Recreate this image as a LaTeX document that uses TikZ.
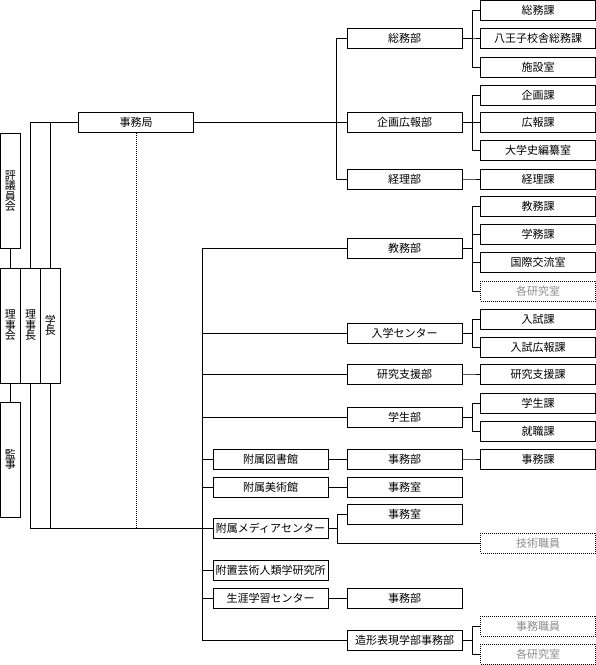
\documentclass[tikz,border=0pt]{standalone}
\usepackage{fontspec}
\setmainfont{Noto Sans CJK JP}
\usetikzlibrary{positioning,calc}
\newcommand{\tightlines}{\setlength{\lineskiplimit}{-20pt}\setlength{\lineskip}{0pt}}

\begin{document}
\begin{tikzpicture}[
    x=1pt, y=-1pt,
    unit/.style={rectangle, draw, line width=1pt, minimum width=115pt, minimum height=20pt, inner sep=0, font=\fontsize{11}{12}\selectfont},
    tall/.style={rectangle, draw, line width=1pt, minimum width=20pt, minimum height=115pt, inner sep=0, align=center, font=\fontsize{11}{10.5}\selectfont\tightlines},
    staff/.style={unit, dash pattern=on 1pt off 1pt, text=black!45},
    link/.style={line width=1pt}
]
    \useasboundingbox (0,0) rectangle (596,665);

    % Boards and heads
    \node[tall] (hyogi) at (10.5, 191) {評\\議\\員\\会};
    \node[tall] (rijikai) at (10.5, 325.5) {理\\事\\会};
    \node[tall] (rijicho) at (30.5, 325.5) {理\\事\\長};
    \node[tall] (gakucho) at (50.5, 325.5) {学\\長};
    \node[tall] (kanji) at (10.5, 459.5) {監\\事};
    \node[unit] (jimukyoku) at (136, 122.5) {事務局};

    % Departments under the secretariat
    \node[unit] (somu) at (404.5, 38) {総務部};
    \node[unit] (kikaku) at (404.5, 122.5) {企画広報部};
    \node[unit] (keiri) at (404.5, 179) {経理部};

    % Academic departments
    \node[unit] (kyomu) at (404.5, 248) {教務部};
    \node[unit] (nyugaku) at (404.5, 333) {入学センター};
    \node[unit] (kenkyu) at (404.5, 374) {研究支援部};
    \node[unit] (gakusei) at (404.5, 417) {学生部};
    \node[unit] (zokei) at (404.5, 640) {造形表現学部事務部};

    % Attached institutions
    \node[unit] (tosho) at (270.5, 459) {附属図書館};
    \node[unit] (bijutsu) at (270.5, 487) {附属美術館};
    \node[unit] (media) at (270.5, 528.5) {附属メディアセンター};
    \node[unit] (jinrui) at (270.5, 570) {附置芸術人類学研究所};
    \node[unit] (shogai) at (270.5, 598) {生涯学習センター};
    \node[unit] (toshojm) at (404.5, 459) {事務部};
    \node[unit] (bijutsujm) at (404.5, 487) {事務室};
    \node[unit] (mediajm) at (404.5, 514) {事務室};
    \node[unit] (shogaijm) at (404.5, 598) {事務部};

    % Sections
    \node[unit] (somuka) at (538, 10.5) {総務課};
    \node[unit] (hachioji) at (538, 38) {八王子校舎総務課};
    \node[unit] (shisetsu) at (538, 67) {施設室};
    \node[unit] (kikakuka) at (538, 95) {企画課};
    \node[unit] (kohoka) at (538, 122.5) {広報課};
    \node[unit] (daigakushi) at (538, 150) {大学史編纂室};
    \node[unit] (keirika) at (538, 179) {経理課};
    \node[unit] (kyomuka) at (538, 206) {教務課};
    \node[unit] (gakumuka) at (538, 234) {学務課};
    \node[unit] (kokusai) at (538, 262) {国際交流室};
    \node[staff] (kenkyushitsuA) at (538, 291) {各研究室};
    \node[unit] (nyushika) at (538, 319) {入試課};
    \node[unit] (nyushikoho) at (538, 347) {入試広報課};
    \node[unit] (kenkyuka) at (538, 374) {研究支援課};
    \node[unit] (gakuseika) at (538, 403) {学生課};
    \node[unit] (shushoku) at (538, 431) {就職課};
    \node[unit] (jimuka) at (538, 459) {事務課};
    \node[staff] (gijutsu) at (538, 543) {技術職員};
    \node[staff] (jimushokuin) at (538, 626) {事務職員};
    \node[staff] (kenkyushitsuB) at (538, 654) {各研究室};

    % Board connections
    \draw[link] (hyogi) -- (rijikai);
    \draw[link] (rijikai) -- (kanji);
    \draw[link] (rijicho.north) |- (jimukyoku.west);
    \draw[link] (gakucho.north) |- (jimukyoku.west);
    \draw[link] (rijicho.south) |- (media.west);
    \draw[link] (gakucho.south) |- (media.west);
    \draw[link, dash pattern=on 1pt off 1pt, line width=0.8pt] (jimukyoku.south) -- (jimukyoku.south |- media.west);

    % Secretariat trunk
    \foreach \t in {somu,kikaku,keiri}
        \draw[link] (\t.west) -- ++(-10,0) |- (jimukyoku.east);

    % Lower trunk
    \foreach \t in {kyomu,nyugaku,kenkyu,gakusei,tosho,bijutsu,jinrui,shogai,zokei}
        \draw[link] (media.west) -- ++(-10,0) |- (\t.west);

    % Department to section
    \foreach \p/\c in {somu/somuka,somu/hachioji,somu/shisetsu,
                       kikaku/kikakuka,kikaku/kohoka,kikaku/daigakushi,
                       keiri/keirika,
                       kyomu/kyomuka,kyomu/gakumuka,kyomu/kokusai,kyomu/kenkyushitsuA,
                       nyugaku/nyushika,nyugaku/nyushikoho,
                       kenkyu/kenkyuka,
                       gakusei/gakuseika,gakusei/shushoku,
                       toshojm/jimuka,
                       zokei/jimushokuin,zokei/kenkyushitsuB}
        \draw[link] (\p.east) -- ++(10,0) |- (\c.west);

    % Institutions to offices
    \draw[link] (tosho) -- (toshojm);
    \draw[link] (bijutsu) -- (bijutsujm);
    \draw[link] (shogai) -- (shogaijm);
    \draw[link] (media.east) -- ++(9,0) |- (mediajm.west);
    \draw[link] (media.east) -- ++(9,0) |- (gijutsu.west);
\end{tikzpicture}
\end{document}
